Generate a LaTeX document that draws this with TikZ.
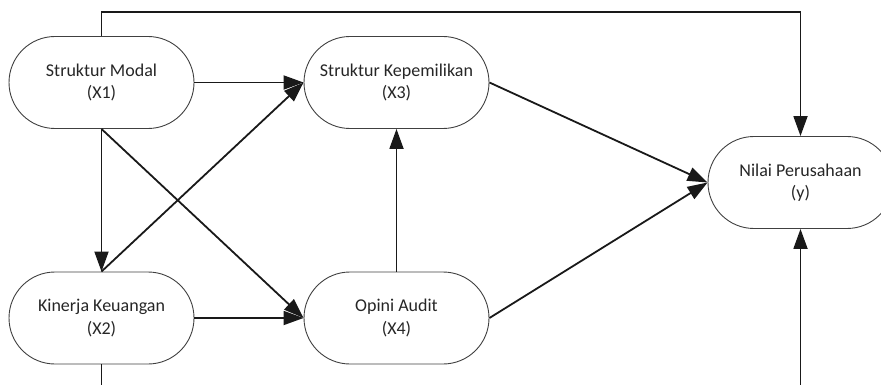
\documentclass[tikz,border=0pt]{standalone}
\usepackage{fontspec}
\setmainfont{Carlito}
\usetikzlibrary{arrows.meta}
\begin{document}
\begin{tikzpicture}[x=1pt,y=-1pt,
  var/.style={draw=black!75, line width=0.9pt, rectangle, rounded corners=46pt,
    minimum width=185pt, minimum height=92pt, align=center, text=black!85,
    font=\fontsize{18pt}{22.5pt}\selectfont, inner sep=0pt},
  conn/.style={draw=black!90, line width=1.8pt, -{Triangle[length=20pt,width=14pt]}},
  plain/.style={draw=black!90, line width=1.8pt}]
\useasboundingbox (0,0) rectangle (881,385);
\clip (0,0) rectangle (881,385);
\node[var] (x1) at (101.5,82.5) {Struktur Modal\\(X1)};
\node[var] (x3) at (396.5,82.5) {Struktur Kepemilikan\\(X3)};
\node[var] (x2) at (101.5,318) {Kinerja Keuangan\\(X2)};
\node[var] (x4) at (396.5,318) {Opini Audit\\(X4)};
\node[var] (y) at (800.5,182.5) {Nilai Perusahaan\\(y)};
\coordinate (t1) at (101.5,12);
\coordinate (t2) at (800.5,12);
\coordinate (b1) at (101.5,400);
\coordinate (b2) at (800.5,400);
\draw[conn] (x1.north) -- (t1) -- (t2) -- (y.north);
\draw[plain] (x2.south) -- (b1) -- (b2);
\draw[conn] (b2) -- (y.south);
\draw[conn] (x1.east) -- (x3.west);
\draw[conn] (x1.south) -- (x2.north);
\draw[conn] (x1.south) -- (x4.west);
\draw[conn] (x2.north) -- (x3.west);
\draw[conn] (x2.east) -- (x4.west);
\draw[conn] (x4.north) -- (x3.south);
\draw[conn] (x3.east) -- (y.west);
\draw[conn] (x4.east) -- (y.west);
\end{tikzpicture}
\end{document}
